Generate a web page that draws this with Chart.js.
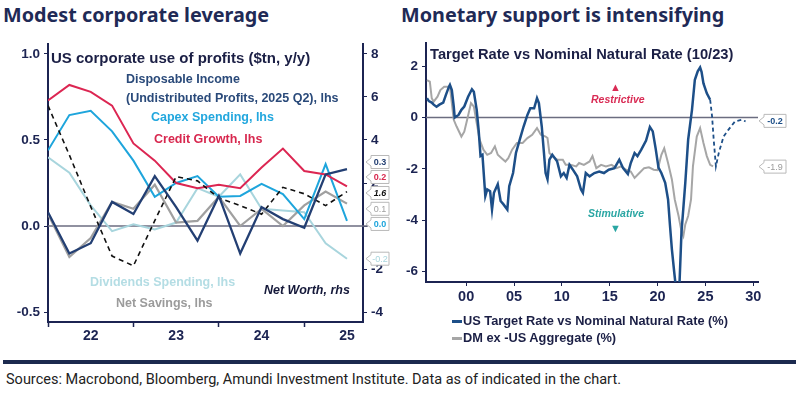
<!DOCTYPE html>
<html>
<head>
<meta charset="utf-8">
<script src="https://cdn.jsdelivr.net/npm/chart.js@4.4.1/dist/chart.umd.min.js"></script>
<style>
  body { margin: 0; width: 800px; height: 393px; background: #fff; position: relative; overflow: hidden; font-family: "Liberation Sans", Arial, sans-serif; }
  .t { position: absolute; white-space: nowrap; line-height: 1; transform: translateY(-50%); font-weight: bold; }
  .head { font-family: "Noto Sans", sans-serif; font-size: 19.8px; color: #1f2a56; }
  .box { position: absolute; }
  .rule { position: absolute; left: 3px; width: 793px; top: 360px; height: 4px; background: #1c2a4f; }
  .src { position: absolute; left: 6px; top: 379px; transform: translateY(-50%); font-family: "Roboto", sans-serif; font-size: 14.5px; color: #222; white-space: nowrap; }
  .leg { position: absolute; width: 10px; height: 3px; }
</style>
</head>
<body>
<div class="t head" style="left:3px;top:15px">Modest corporate leverage</div>
<div class="t head" style="left:401px;top:15px">Monetary support is intensifying</div>

<div class="box" style="left:0;top:30px;width:400px;height:320px"><canvas id="chartLeft" width="400" height="320"></canvas></div>
<div class="box" style="left:400px;top:30px;width:400px;height:290px"><canvas id="chartRight" width="400" height="290"></canvas></div>

<!-- textes du graphique de gauche -->
<div class="t" style="left:51px;top:57px;font-size:15px;color:#1b1f45">US corporate use of profits ($tn, y/y)</div>
<div class="t" style="left:126px;top:79px;font-size:12.5px;color:#2a4a7a">Disposable Income</div>
<div class="t" style="left:126px;top:98px;font-size:12.5px;color:#2a4a7a">(Undistributed Profits, 2025 Q2), lhs</div>
<div class="t" style="left:151px;top:117px;font-size:12.5px;color:#22a7de">Capex Spending, lhs</div>
<div class="t" style="left:154px;top:139px;font-size:12.5px;color:#d8284f">Credit Growth, lhs</div>
<div class="t" style="left:90px;top:282px;font-size:12.5px;color:#b4dde4">Dividends Spending, lhs</div>
<div class="t" style="left:116px;top:303px;font-size:12.5px;color:#9b9b9b">Net Savings, lhs</div>
<div class="t" style="left:264px;top:290px;font-size:12.5px;font-style:italic;color:#15193a">Net Worth, rhs</div>

<!-- textes du graphique de droite -->
<div class="t" style="left:430px;top:54px;font-size:14.7px;color:#1b1f45">Target Rate vs Nominal Natural Rate (10/23)</div>
<div class="t" style="left:610px;top:87px;font-size:11px;color:#d92b54">&#9650;</div>
<div class="t" style="left:591px;top:99px;font-size:10.5px;font-style:italic;color:#d92b54">Restrictive</div>
<div class="t" style="left:588px;top:213px;font-size:10.5px;font-style:italic;color:#2aa6a3">Stimulative</div>
<div class="t" style="left:610px;top:228px;font-size:11px;color:#2aa6a3">&#9660;</div>

<div class="leg" style="left:452px;top:320px;background:#1d4f88"></div>
<div class="t" style="left:463px;top:321px;font-size:12.8px;color:#1b1f45">US Target Rate vs Nominal Natural Rate (%)</div>
<div class="leg" style="left:452px;top:337px;background:#a6a6a6"></div>
<div class="t" style="left:463px;top:338px;font-size:12.8px;color:#1b1f45">DM ex -US Aggregate (%)</div>

<div class="rule"></div>
<div class="src">Sources: Macrobond, Bloomberg, Amundi Investment Institute. Data as of indicated in the chart.</div>

<script>
// ===== DONNÉES — graphique de gauche (trimestres, $tn y/y) =====
const quarters      = [0, 1, 2, 3, 4, 5, 6, 7, 8, 9, 10, 11, 12, 13, 14];
const yearLabels    = ['22', '23', '24', '25'];
const yearLabelPos  = [2, 6, 10, 14];
const yearTickPos   = [0, 4, 8, 12];

const disposableIncome = [0.08, -0.16, -0.10, 0.14, 0.07, 0.29, 0.11, -0.085, 0.175, -0.16, 0.11, 0.04, -0.01, 0.30, 0.33];
const capexSpending    = [0.44, 0.645, 0.67, 0.55, 0.38, 0.17, 0.25, 0.29, 0.17, 0.175, 0.245, 0.185, 0.04, 0.36, 0.03];
const creditGrowth     = [0.73, 0.82, 0.78, 0.70, 0.48, 0.38, 0.25, 0.22, 0.24, 0.22, 0.34, 0.45, 0.32, 0.30, 0.23];
const dividendsSpend   = [0.40, 0.31, 0.12, -0.03, 0.01, -0.02, 0.02, 0.22, 0.17, 0.30, 0.10, 0.09, 0.08, -0.10, -0.19];
const netSavings       = [0.07, -0.18, -0.07, 0.14, 0.10, 0.24, 0.02, 0.03, 0.17, 0.0, 0.10, 0.0, 0.12, 0.20, 0.13];
const netWorth         = [5.6, 3.3, 0.9, -1.4, -1.85, 0.25, 2.3, 2.1, 1.3, 0.95, 0.55, 1.8, 1.5, 0.95, 1.6]; // rhs

// étiquettes de dernière valeur (texte, position sur l'axe gauche)
const leftTags = [
  { text: '0.3',  at: 0.372,  color: '#233f73', bold: true },
  { text: '0.2',  at: 0.285,  color: '#d8284f', bold: true },
  { text: '1.6',  at: 0.192,  color: '#111111', bold: true, italic: true },
  { text: '0.1',  at: 0.10,   color: '#a0a0a0' },
  { text: '0.0',  at: 0.012,  color: '#1ea5dc', bold: true },
  { text: '-0.2', at: -0.19,  color: '#a8d5dd' }
];

// ===== DONNÉES — graphique de droite (années décimales, %) =====
const usYears = [1995.9, 1996.1, 1996.4, 1996.6, 1996.9, 1997.2, 1997.6, 1997.9, 1998.2, 1998.3, 1998.5, 1998.7, 1998.8,
  1999.2, 1999.5, 1999.8, 2000.2, 2000.6, 2000.8, 2001.1, 2001.3, 2001.5, 2001.7, 2002.0, 2002.2, 2002.5, 2002.7, 2002.9,
  2003.3, 2003.6, 2003.9, 2004.3, 2004.5, 2004.9, 2005.2, 2005.6, 2006.0, 2006.4, 2006.7, 2007.1, 2007.4, 2007.6, 2007.9,
  2008.1, 2008.3, 2008.5, 2008.7, 2009.0, 2009.5, 2009.9, 2010.2, 2010.5, 2010.8, 2011.1, 2011.6, 2012.0, 2012.2, 2012.5,
  2012.9, 2013.4, 2013.9, 2014.4, 2014.9, 2015.5, 2016.0, 2016.4, 2016.9, 2017.2, 2017.6, 2017.9, 2018.3, 2018.8, 2019.2,
  2019.5, 2019.8, 2020.1, 2020.4, 2020.8, 2021.1, 2021.3, 2021.5, 2021.75, 2022.0, 2022.25, 2022.5, 2022.9, 2023.2, 2023.6,
  2023.9, 2024.2, 2024.45, 2024.6, 2024.8, 2025.15, 2025.5];
const usTargetGap = [0.75, 0.64, 0.58, 0.50, 0.42, 0.50, 0.58, 0.90, 1.20, 1.27, 1.07, 0.43, 0.00,
  0.10, 0.30, 0.43, 0.81, 1.10, 1.00, 0.30, -0.48, -1.50, -1.45, -3.06, -2.80, -2.87, -3.58, -2.93,
  -2.60, -3.25, -3.38, -3.58, -2.67, -2.16, -1.38, -0.86, -0.35, 0.10, 0.36, 0.36, 0.75, 0.56, -0.35,
  -1.25, -2.16, -2.40, -1.64, -1.45, -1.70, -2.29, -2.16, -2.35, -1.84, -2.00, -2.29, -2.80, -2.93, -2.16,
  -2.29, -2.16, -2.10, -2.16, -2.03, -1.97, -1.64, -1.97, -2.20, -1.77, -1.38, -1.50, -1.25, -0.90, -0.37,
  -0.54, -1.20, -1.95, -2.16, -2.54, -3.19, -4.20, -5.13, -6.04, -6.90, -6.90, -4.48, -2.54, -0.86, 0.30,
  1.47, 1.80, 1.95, 1.78, 1.33, 0.94, 0.69];

const projYears = [2025.5, 2025.7, 2025.87, 2026.1, 2026.4, 2026.9, 2027.4, 2028.1, 2028.8, 2029.2];
const projGap   = [0.69, 0.04, -0.86, -1.90, -1.38, -0.74, -0.48, -0.15, -0.09, -0.15];

const dmYears = [1995.9, 1996.2, 1996.4, 1996.6, 1997.0, 1997.3, 1997.7, 1998.3, 1998.7, 1999.0, 1999.5, 1999.8, 2000.1,
  2000.5, 2000.8, 2001.1, 2001.4, 2001.8, 2002.2, 2002.6, 2003.0, 2003.3, 2003.7, 2004.1, 2004.4, 2004.8, 2005.3, 2005.9,
  2006.4, 2006.9, 2007.4, 2007.8, 2008.3, 2008.5, 2008.7, 2009.0, 2009.5, 2010.1, 2010.4, 2010.9, 2011.5, 2011.8, 2012.3,
  2012.9, 2013.2, 2013.6, 2014.1, 2014.6, 2015.2, 2015.7, 2016.2, 2016.7, 2017.2, 2017.6, 2018.1, 2018.6, 2019.1, 2019.6,
  2020.0, 2020.4, 2020.7, 2021.1, 2021.5, 2021.8, 2022.2, 2022.5, 2022.7, 2022.9, 2023.2, 2023.5, 2023.7, 2024.1, 2024.45,
  2024.8, 2025.15, 2025.5, 2025.8];
const dmAggregate = [1.46, 1.40, 0.75, 0.62, 0.81, 1.07, 1.20, 1.20, -0.09, -0.35, -0.74, -0.55, -0.09,
  0.56, 0.43, -0.22, -0.86, -1.25, -1.45, -1.38, -1.12, -1.45, -1.58, -1.71, -1.58, -1.25, -0.99, -0.99,
  -0.80, -0.67, -0.41, -0.67, -0.74, -0.80, -1.38, -1.50, -1.64, -1.64, -1.84, -1.84, -1.90, -1.77, -1.84,
  -1.71, -1.50, -1.97, -1.84, -1.90, -1.84, -1.97, -1.90, -2.03, -2.10, -2.35, -2.16, -1.97, -1.94, -2.03,
  -2.05, -1.45, -1.20, -1.77, -2.41, -3.19, -3.83, -4.42, -4.61, -4.16, -3.83, -3.19, -1.90, -0.74, -0.41,
  -0.99, -1.50, -1.84, -1.90];

const rightXTicks = [2000, 2005, 2010, 2015, 2020, 2025, 2030];
const rightYTicks = [-6, -4, -2, 0, 2];
const rightTags = [
  { text: '-0.2', at: -0.13, color: '#1d4f88', bold: true },
  { text: '-1.9', at: -1.91, color: '#9a9a9a' }
];

// ===== STYLES =====
const NAVY = '#1c2452';
const ZERO = '#6b6d80';
const FONT = 'Liberation Sans';

function pts(xs, ys) { return xs.map((x, i) => ({ x, y: ys[i] })); }

function lineDs(label, data, color, width, extra = {}) {
  return Object.assign({ label, data, borderColor: color, borderWidth: width, pointRadius: 0, tension: 0, fill: false }, extra);
}

// petite étiquette en forme de flèche (dernière valeur)
function drawTag(ctx, xTip, yc, w, h, tag) {
  const x0 = xTip + 5;
  ctx.save();
  ctx.beginPath();
  ctx.moveTo(xTip, yc);
  ctx.lineTo(x0, yc - 4);
  ctx.lineTo(x0, yc - h / 2);
  ctx.lineTo(x0 + w, yc - h / 2);
  ctx.lineTo(x0 + w, yc + h / 2);
  ctx.lineTo(x0, yc + h / 2);
  ctx.lineTo(x0, yc + 4);
  ctx.closePath();
  ctx.fillStyle = '#fff';
  ctx.fill();
  ctx.strokeStyle = '#b9b9b9';
  ctx.lineWidth = 1;
  ctx.stroke();
  ctx.fillStyle = tag.color;
  ctx.font = `${tag.italic ? 'italic ' : ''}${tag.bold ? 'bold ' : ''}9px "${FONT}"`;
  ctx.textAlign = 'center';
  ctx.textBaseline = 'middle';
  ctx.fillText(tag.text, x0 + w / 2, yc + 0.5);
  ctx.restore();
}

function refPlugin(cfg) {
  return {
    id: 'ref_' + cfg.id,
    beforeDatasetsDraw(chart) {
      const { ctx, chartArea, scales } = chart;
      const y0 = scales[cfg.yId].getPixelForValue(0);
      ctx.save();
      ctx.strokeStyle = ZERO;
      ctx.lineWidth = 1.5;
      ctx.beginPath();
      ctx.moveTo(chartArea.left, y0);
      ctx.lineTo(cfg.zeroEnd, y0);
      ctx.stroke();
      ctx.restore();
    },
    afterDraw(chart) {
      const sc = chart.scales[cfg.yId];
      cfg.tags.forEach(t => drawTag(chart.ctx, cfg.tagX, sc.getPixelForValue(t.at), cfg.tagW, 13, t));
    }
  };
}

// ===== GRAPHIQUE GAUCHE =====
new Chart(document.getElementById('chartLeft'), {
  type: 'line',
  data: {
    datasets: [
      lineDs('Disposable Income', pts(quarters, disposableIncome), '#233f73', 2.3),
      lineDs('Net Worth', pts(quarters, netWorth), '#111111', 1.6, { borderDash: [5, 4], yAxisID: 'y2' }),
      lineDs('Credit Growth', pts(quarters, creditGrowth), '#dc2652', 2),
      lineDs('Capex Spending', pts(quarters, capexSpending), '#1ea5dc', 2),
      lineDs('Net Savings', pts(quarters, netSavings), '#a0a0a0', 2.2),
      lineDs('Dividends Spending', pts(quarters, dividendsSpend), '#a8d5dd', 2)
    ]
  },
  options: {
    responsive: false, animation: false,
    layout: { padding: { top: 14, left: 0, right: 0, bottom: 0 } },
    plugins: { legend: { display: false }, tooltip: { enabled: false } },
    scales: {
      x: {
        type: 'linear', min: 0, max: 14.75,
        afterFit: s => { s.height = 28; },
        afterBuildTicks: s => { s.ticks = [0, 2, 4, 6, 8, 10, 12, 14].map(v => ({ value: v })); },
        ticks: {
          autoSkip: false, maxRotation: 0, padding: 1, color: NAVY, font: { family: FONT, size: 14, weight: 'bold' },
          callback: v => { const i = yearLabelPos.indexOf(v); return i >= 0 ? yearLabels[i] : ''; }
        },
        grid: { drawOnChartArea: false, tickLength: 5, tickWidth: 1.5,
          tickColor: c => (c.tick && yearTickPos.includes(c.tick.value)) ? NAVY : 'rgba(0,0,0,0)' },
        border: { color: NAVY, width: 2 }
      },
      y: {
        position: 'left', min: -0.558, max: 1.058,
        afterFit: s => { s.width = 48; },
        afterBuildTicks: s => { s.ticks = [-0.5, 0, 0.5, 1.0].map(v => ({ value: v })); },
        ticks: { padding: 4, color: NAVY, font: { family: FONT, size: 13.5, weight: 'bold' }, callback: v => v.toFixed(1) },
        grid: { drawOnChartArea: false, tickLength: 4, color: NAVY },
        border: { color: NAVY, width: 2 }
      },
      y2: {
        position: 'right', min: -4.465, max: 8.465,
        afterFit: s => { s.width = 37; },
        afterBuildTicks: s => { s.ticks = [-4, -2, 0, 2, 4, 6, 8].map(v => ({ value: v })); },
        ticks: { padding: 4, color: NAVY, font: { family: FONT, size: 13.5, weight: 'bold' }, callback: v => String(v) },
        grid: { drawOnChartArea: false, tickLength: 4, color: NAVY },
        border: { color: NAVY, width: 2 }
      }
    }
  },
  plugins: [refPlugin({ id: 'l', yId: 'y', zeroEnd: 368, tagX: 366, tagW: 18, tags: leftTags })]
});

// ===== GRAPHIQUE DROITE =====
new Chart(document.getElementById('chartRight'), {
  type: 'line',
  data: {
    datasets: [
      lineDs('US Target Rate vs Nominal Natural Rate (%)', pts(usYears, usTargetGap), '#1d4f88', 2.5),
      lineDs('Projection', pts(projYears, projGap), '#1d4f88', 1.8, { borderDash: [4, 3] }),
      lineDs('DM ex -US Aggregate (%)', pts(dmYears, dmAggregate), '#a6a6a6', 2)
    ]
  },
  options: {
    responsive: false, animation: false,
    layout: { padding: { top: 13, left: 0, right: 42, bottom: 0 } },
    plugins: { legend: { display: false }, tooltip: { enabled: false } },
    scales: {
      x: {
        type: 'linear', min: 1995.8, max: 2030.5,
        afterFit: s => { s.height = 38; },
        afterBuildTicks: s => { s.ticks = rightXTicks.map(v => ({ value: v })); },
        ticks: { autoSkip: false, maxRotation: 0, padding: 2, color: NAVY, font: { family: FONT, size: 14.5, weight: 'bold' },
          callback: v => String(v % 100).padStart(2, '0') },
        grid: { drawOnChartArea: false, tickLength: 4, color: NAVY },
        border: { color: NAVY, width: 2 }
      },
      y: {
        min: -6.4, max: 2.9,
        afterFit: s => { s.width = 26; },
        afterBuildTicks: s => { s.ticks = rightYTicks.map(v => ({ value: v })); },
        ticks: { padding: 4, color: NAVY, font: { family: FONT, size: 13.5, weight: 'bold' }, callback: v => String(v) },
        grid: { drawOnChartArea: false, tickLength: 4, color: NAVY },
        border: { color: NAVY, width: 2 }
      }
    }
  },
  plugins: [refPlugin({ id: 'r', yId: 'y', zeroEnd: 358, tagX: 359, tagW: 22, tags: rightTags })]
});
</script>
</body>
</html>
